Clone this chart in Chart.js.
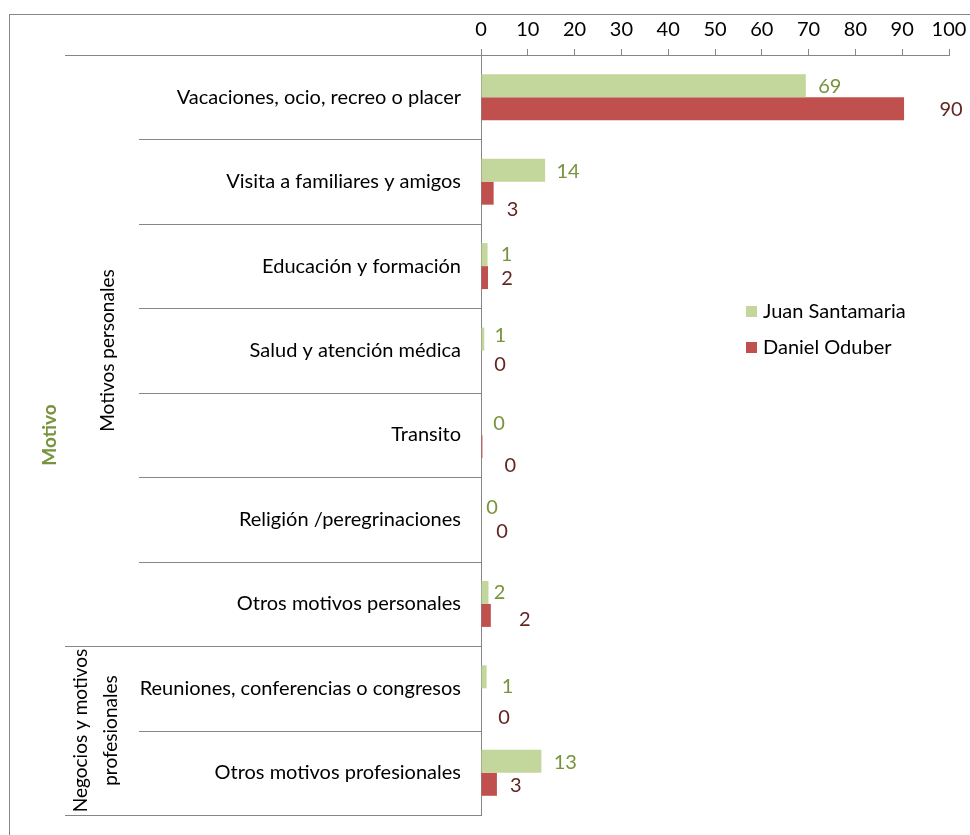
<!DOCTYPE html>
<html>
<head>
<meta charset="utf-8">
<script src="https://cdn.jsdelivr.net/npm/chart.js@4/dist/chart.umd.min.js"></script>
<style>
  body { margin: 0; background: #fff; }
  #wrap { width: 970px; height: 835px; }
</style>
</head>
<body>
<div id="wrap"><canvas id="motivo-chart" width="970" height="835"></canvas></div>
<script>
/* Data */
let categories = [
    'Vacaciones, ocio, recreo o placer',
    'Visita a familiares y amigos',
    'Educación y formación',
    'Salud y atención médica',
    'Transito',
    'Religión /peregrinaciones',
    'Otros motivos personales',
    'Reuniones, conferencias o congresos',
    'Otros motivos profesionales'
]
let groupNames = [ ['Motivos personales'], ['Negocios y motivos', 'profesionales'] ]
let groupSizes = [ 7, 2 ]  // how many categories in each group
let seriesNames = [ 'Juan Santamaria', 'Daniel Oduber' ]
let juanValues = [ 69.4, 13.7, 1.4, 0.7, 0, 0, 1.6, 1.2, 12.9 ]
let oduberValues = [ 90.4, 2.7, 1.5, 0, 0.3, 0, 2.1, 0, 3.4 ]
let axisMin = 0
let axisMax = 100
let axisStep = 10

/* Styles */
let font = 'Lato, "Open Sans", sans-serif'
let fontSize = 20
let lineColor = '#868686'
let barColors = [ '#c3d69b', '#c0504d' ]
let labelColors = [ '#77933c', '#632523' ]

// label nudges (x from bar end, y from bar center) -- labels were moved by hand in the original
let labelShift = [
    [ [24, 1], [23, 1], [19, 0], [16, -4], [18, 0], [11, 0], [11, 0], [21, 10], [24, 1] ],
    [ [47, 1], [19, 16], [19, 1], [19, 2], [28, 19], [21, 1], [34, 4], [23, 18], [19, 1] ]
]

/* Value labels next to the bars */
let valueLabels = {
    id: 'valueLabels',
    afterDatasetsDraw(chart) {
        let ctx = chart.ctx
        ctx.save()
        ctx.font = fontSize + 'px ' + font
        ctx.textAlign = 'center'
        ctx.textBaseline = 'middle'
        chart.data.datasets.forEach(function(ds, d) {
            let meta = chart.getDatasetMeta(d)
            meta.data.forEach(function(bar, i) {
                ctx.fillStyle = labelColors[d]
                let shift = labelShift[d][i]
                ctx.fillText(Math.round(ds.data[i]), bar.x + shift[0], bar.y + shift[1])
            })
        })
        ctx.restore()
    }
}

/* Frame, category separators, group labels, axis title and legend */
let decorations = {
    id: 'decorations',
    afterDraw(chart) {
        let ctx = chart.ctx
        let area = chart.chartArea
        let yScale = chart.scales.y
        ctx.save()

        // outer frame (only left and top fall inside the window)
        ctx.strokeStyle = lineColor
        ctx.lineWidth = 1
        ctx.strokeRect(9.5, 14.5, 1200, 1200)

        let bound = function(i) {
            // pixel between category i-1 and i
            if (i <= 0) return area.top
            if (i >= categories.length) return area.bottom
            return (yScale.getPixelForValue(i - 1) + yScale.getPixelForValue(i)) / 2
        }

        function hLine(x1, x2, y) {
            ctx.beginPath()
            ctx.moveTo(x1, Math.round(y) + 0.5)
            ctx.lineTo(x2, Math.round(y) + 0.5)
            ctx.stroke()
        }

        // top line continues left of the value axis
        hLine(65, area.left, area.top - 0.5)

        let start = 0
        groupSizes.forEach(function(size, g) {
            for (let i = start + 1; i < start + size; i++) {
                hLine(139, area.left, bound(i))
            }
            hLine(65, area.left, bound(start + size))

            // group name, rotated
            let mid = (bound(start) + bound(start + size)) / 2
            let lines = groupNames[g]
            ctx.save()
            ctx.translate(g == 0 ? 108 : 96, mid)
            ctx.rotate(-Math.PI / 2)
            ctx.fillStyle = '#000'
            ctx.font = (fontSize - 1) + 'px ' + font
            ctx.textAlign = 'center'
            ctx.textBaseline = 'middle'
            lines.forEach(function(text, k) {
                ctx.fillText(text, 0, (k - (lines.length - 1) / 2) * 30)
            })
            ctx.restore()
            start += size
        })

        // axis title
        ctx.save()
        ctx.translate(50, (area.top + area.bottom) / 2)
        ctx.rotate(-Math.PI / 2)
        ctx.fillStyle = '#77933c'
        ctx.font = 'bold ' + (fontSize - 1) + 'px ' + font
        ctx.textAlign = 'center'
        ctx.textBaseline = 'middle'
        ctx.fillText('Motivo', 0, 0)
        ctx.restore()

        // legend
        ctx.font = fontSize + 'px ' + font
        ctx.textBaseline = 'middle'
        ctx.textAlign = 'left'
        seriesNames.forEach(function(name, s) {
            let y = 311 + s * 36
            ctx.fillStyle = barColors[s]
            ctx.fillRect(746, y - 5, 11, 11)
            ctx.fillStyle = '#000'
            ctx.fillText(name, 763, y + 1)
        })

        ctx.restore()
    }
}

let ctx = document.querySelector('#motivo-chart').getContext('2d')

let motivoChart = new Chart(ctx, {
    type: 'bar',
    data: {
        labels: categories,
        datasets: [
            { label: seriesNames[0], data: juanValues, backgroundColor: barColors[0] },
            { label: seriesNames[1], data: oduberValues, backgroundColor: barColors[1] }
        ]
    },
    options: {
        indexAxis: 'y',
        responsive: false,
        animation: false,
        layout: { padding: { left: 0, right: 21, top: 0, bottom: 20 } },
        datasets: { bar: { barPercentage: 1, categoryPercentage: 0.545 } },
        plugins: {
            legend: { display: false },
            tooltip: { enabled: false }
        },
        scales: {
            x: {
                position: 'top',
                min: axisMin,
                max: axisMax,
                ticks: { stepSize: axisStep, color: '#000', font: { family: font, size: fontSize }, padding: 7 },
                grid: { drawOnChartArea: false, color: lineColor, tickLength: 6 },
                border: { color: lineColor },
                afterFit(scale) {
                    scale.height = 55
                    scale.paddingLeft = 0
                    scale.paddingRight = 0
                }
            },
            y: {
                ticks: { color: '#000', font: { family: font, size: fontSize }, padding: 12 },
                grid: { display: false },
                border: { color: lineColor },
                afterFit(scale) {
                    scale.width = 481
                    scale.paddingTop = 0
                    scale.paddingBottom = 0
                }
            }
        }
    },
    plugins: [ valueLabels, decorations ]
})
</script>
</body>
</html>
